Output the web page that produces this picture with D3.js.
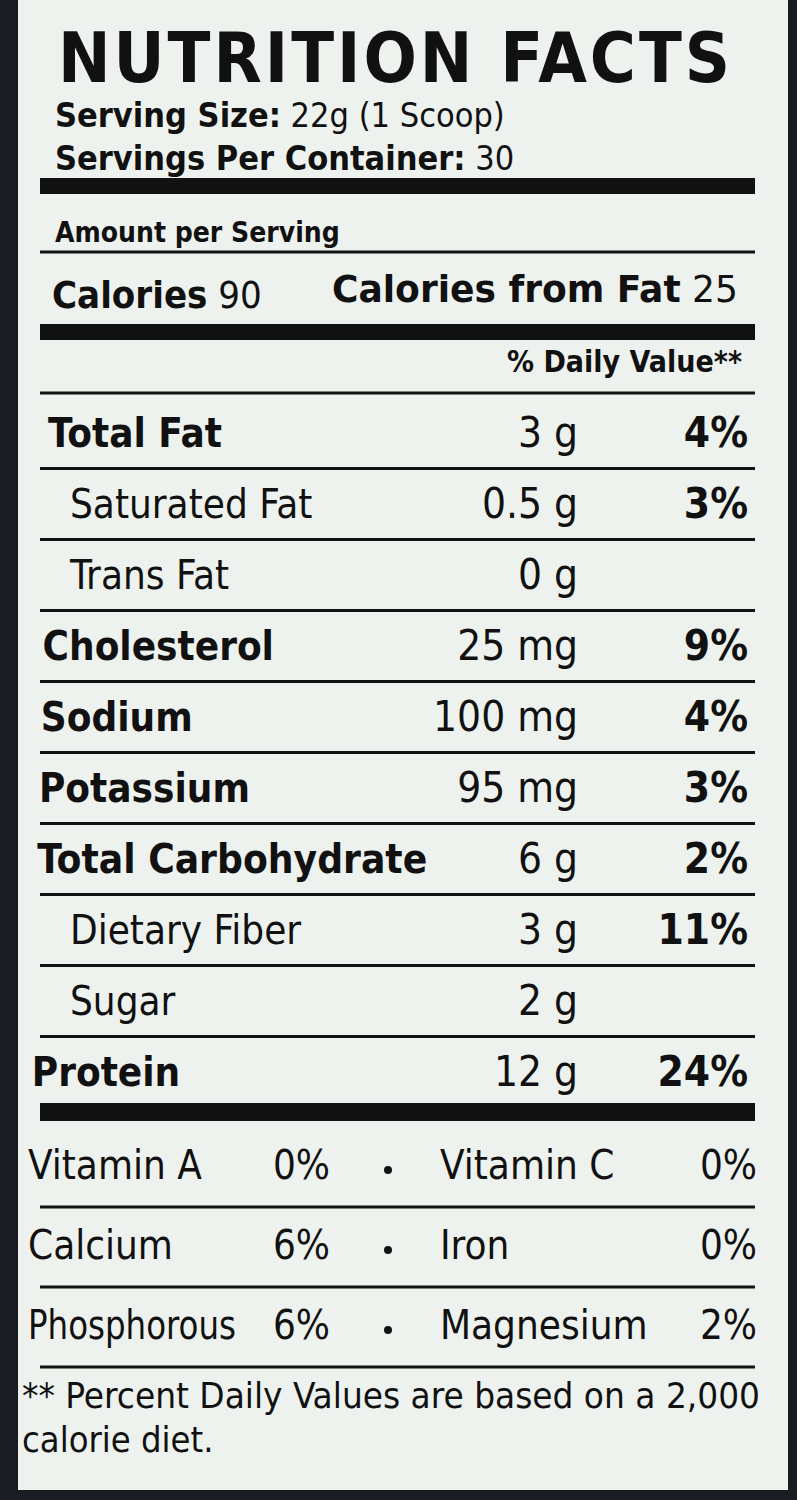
<!DOCTYPE html>
<html><head><meta charset="utf-8">
<script src="https://cdn.jsdelivr.net/npm/d3@7"></script>
<style>body{margin:0;background:#1b1c22}text{font-family:"DejaVu Sans Condensed","Liberation Sans Narrow",sans-serif;fill:#111}</style>
</head><body><svg id="c" width="797" height="1500"></svg>
<script>
const nutrients=["Total Fat","Saturated Fat","Trans Fat","Cholesterol","Sodium","Potassium","Total Carbohydrate","Dietary Fiber","Sugar","Protein"];
const amounts=["3 g","0.5 g","0 g","25 mg","100 mg","95 mg","6 g","3 g","2 g","12 g"];
const dailyValues=["4%","3%","","9%","4%","3%","2%","11%","","24%"];
const boldRows=[true,false,false,true,true,true,true,false,false,true];
const indentRows=[false,true,true,false,false,false,false,true,true,false];
const vitaminsLeft=["Vitamin A","Calcium","Phosphorous"];
const vitaminsLeftPct=["0%","6%","6%"];
const vitaminsRight=["Vitamin C","Iron","Magnesium"];
const vitaminsRightPct=["0%","0%","2%"];

const svg=d3.select("#c");
svg.append("rect").attr("x",0).attr("y",0).attr("width",797).attr("height",1500).attr("fill","#1b1c22");
svg.append("rect").attr("x",18).attr("y",0).attr("width",770).attr("height",1490).attr("fill","#eef2ee");
const L=40,R=755;
function t(x,y,s,size,w,anchor){return svg.append("text").attr("x",x).attr("y",y).attr("font-size",size).attr("font-weight",w||"normal").attr("text-anchor",anchor||"start").text(s);}
function t2(x,y,a,b,size){const e=svg.append("text").attr("x",x).attr("y",y).attr("font-size",size);
  e.append("tspan").attr("font-weight","bold").text(a);e.append("tspan").text(" "+b);return e;}
function line(y,h){svg.append("rect").attr("x",L).attr("y",y-h/2).attr("width",R-L).attr("height",h).attr("fill","#111");}
t(58,82,"NUTRITION FACTS",70,"bold").attr("letter-spacing",3).attr("textLength",675).attr("lengthAdjust","spacingAndGlyphs");
t2(55,127,"Serving Size:","22g (1 Scoop)",34);
t2(55,170,"Servings Per Container:","30",34);
line(186,16);
t(55,242,"Amount per Serving",28,"bold");
line(252,3);
t2(52,308,"Calories","90",38);
t2(332,302,"Calories from Fat","25",38).attr("textLength",406).attr("lengthAdjust","spacingAndGlyphs");
line(332,16);
t(742,372,"% Daily Value**",30,"bold","end");
line(393,3);
const y=d3.scalePoint().domain(nutrients).range([433,1072]);
const step=y.step();
nutrients.forEach((n,i)=>{
  const yy=y(n);
  const e=t(indentRows[i]?70:48-i*1.8,yy+14,n,40,boldRows[i]?"bold":"normal");
  if(n==="Total Carbohydrate")e.attr("textLength",390).attr("lengthAdjust","spacingAndGlyphs");
  t(578,yy+14,amounts[i],42,null,"end");
  if(dailyValues[i])t(748,yy+14,dailyValues[i],42,"bold","end");
  if(i<nutrients.length-1)line(yy+step/2,3);
});
line(1112,18);
const vy=d3.scalePoint().domain(vitaminsLeft).range([1165,1325]);
vitaminsLeft.forEach((v,i)=>{
  const yy=vy(v);
  const e=t(28,yy+14,v,40);
  if(v==="Phosphorous")e.attr("textLength",208).attr("lengthAdjust","spacingAndGlyphs");
  t(330,yy+14,vitaminsLeftPct[i],40,null,"end");
  svg.append("circle").attr("cx",388).attr("cy",yy+5).attr("r",4).attr("fill","#111");
  t(440,yy+14,vitaminsRight[i],40);t(757,yy+14,vitaminsRightPct[i],40,null,"end");
  line(yy+42,3);
});
t(22,1408,"** Percent Daily Values are based on a 2,000",36).attr("textLength",738).attr("lengthAdjust","spacingAndGlyphs");
t(22,1452,"calorie diet.",36);
</script></body></html>
